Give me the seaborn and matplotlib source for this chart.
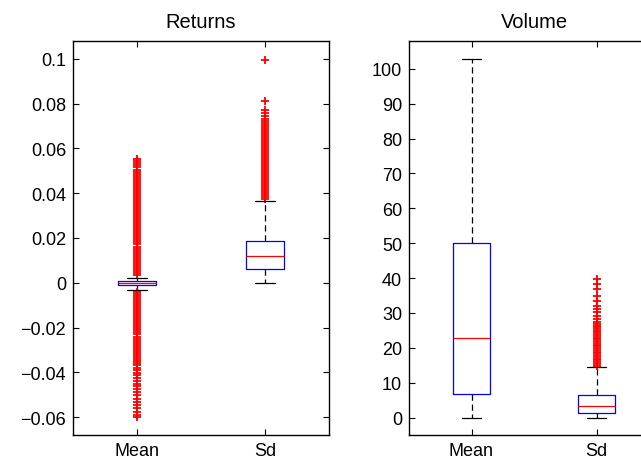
import numpy as np
import pandas as pd
import matplotlib
matplotlib.use("Agg")
import matplotlib.pyplot as plt
import seaborn as sns
from matplotlib.ticker import FuncFormatter

categories = ["Mean", "Sd"]
panel_titles = ["Returns", "Volume"]

# five-number summaries: lower whisker, Q1, median, Q3, upper whisker
returns_mean_box = [-0.0031, -0.0012, -0.0003, 0.0006, 0.0021]
returns_sd_box = [0.0000, 0.0063, 0.0118, 0.0185, 0.0364]
volume_mean_box = [0.0, 6.9, 22.8, 50.1, 102.8]
volume_sd_box = [0.0, 1.2, 3.4, 6.6, 14.5]

# outliers (the dense red columns)
returns_mean_outliers = [
    0.0036, 0.0045, 0.0054, 0.0063, 0.0072, 0.0081, 0.0090, 0.0099, 0.0108, 0.0117,
    0.0126, 0.0135, 0.0144, 0.0153, 0.0162, 0.0171, 0.0180, 0.0189, 0.0198, 0.0207,
    0.0216, 0.0225, 0.0234, 0.0243, 0.0252, 0.0261, 0.0270, 0.0279, 0.0288, 0.0297,
    0.0306, 0.0315, 0.0324, 0.0333, 0.0342, 0.0351, 0.0360, 0.0369, 0.0378, 0.0387,
    0.0396, 0.0405, 0.0414, 0.0423, 0.0432, 0.0441, 0.0450, 0.0459, 0.0468, 0.0477,
    0.0486, 0.0495, 0.0504, 0.0516, 0.0528, 0.0537, 0.0545, 0.0551,
    -0.0042, -0.0051, -0.0060, -0.0069, -0.0078, -0.0087, -0.0096, -0.0105, -0.0114,
    -0.0123, -0.0132, -0.0141, -0.0150, -0.0159, -0.0168, -0.0177, -0.0186, -0.0195,
    -0.0204, -0.0213, -0.0222, -0.0231, -0.0240, -0.0249, -0.0258, -0.0267, -0.0276,
    -0.0285, -0.0294, -0.0303, -0.0312, -0.0321, -0.0330, -0.0339, -0.0348, -0.0358,
    -0.0368, -0.0379, -0.0390, -0.0401, -0.0413, -0.0425, -0.0437, -0.0450, -0.0463,
    -0.0476, -0.0489, -0.0503, -0.0517, -0.0531, -0.0546, -0.0561, -0.0576, -0.0591,
    -0.0600,
]
returns_sd_outliers = [
    0.0372, 0.0381, 0.0390, 0.0399, 0.0408, 0.0417, 0.0426, 0.0435, 0.0444, 0.0453,
    0.0462, 0.0471, 0.0480, 0.0489, 0.0498, 0.0507, 0.0516, 0.0525, 0.0534, 0.0543,
    0.0552, 0.0561, 0.0570, 0.0579, 0.0588, 0.0597, 0.0606, 0.0615, 0.0624, 0.0633,
    0.0642, 0.0651, 0.0660, 0.0669, 0.0678, 0.0687, 0.0696, 0.0705, 0.0714, 0.0723,
    0.0733, 0.0745, 0.0758, 0.0771, 0.0812, 0.0997,
]
volume_mean_outliers = []
volume_sd_outliers = [
    14.9, 15.4, 15.9, 16.4, 16.9, 17.4, 17.9, 18.4, 18.9, 19.4, 19.9, 20.4, 20.9,
    21.4, 21.9, 22.4, 22.9, 23.4, 23.9, 24.4, 24.9, 25.4, 25.9, 26.4, 26.9, 27.5,
    28.2, 29.1, 30.2, 31.0, 32.0, 33.4, 34.9, 36.8, 38.2, 39.7,
]

returns_ticks = [-0.06, -0.04, -0.02, 0, 0.02, 0.04, 0.06, 0.08, 0.1]
volume_ticks = [0, 10, 20, 30, 40, 50, 60, 70, 80, 90, 100]

# copies of each quartile value so the quartiles stay exactly as read
QUARTILE_COPIES = 1000


def sample(box, outliers):
    lo, q1, med, q3, hi = box
    return ([lo] + [q1] * QUARTILE_COPIES + [med] * QUARTILE_COPIES
            + [q3] * QUARTILE_COPIES + [hi] + list(outliers))


def long_frame(mean_box, mean_out, sd_box, sd_out):
    a = sample(mean_box, mean_out)
    b = sample(sd_box, sd_out)
    return pd.DataFrame({"stat": [categories[0]] * len(a) + [categories[1]] * len(b),
                         "value": a + b})


returns_df = long_frame(returns_mean_box, returns_mean_outliers, returns_sd_box, returns_sd_outliers)
volume_df = long_frame(volume_mean_box, volume_mean_outliers, volume_sd_box, volume_sd_outliers)

sns.set_theme(style="ticks")
plt.rcParams["font.family"] = ["Liberation Sans", "DejaVu Sans"]
plt.rcParams["text.color"] = "black"

fig = plt.figure(figsize=(6.41, 4.60), dpi=100)
ax1 = fig.add_axes([73 / 641, 24 / 460, 256 / 641, 394 / 460])
ax2 = fig.add_axes([409 / 641, 24 / 460, 250 / 641, 394 / 460])


def fmt(v, pos):
    return f"{v:g}".replace("-", "\u2212")


for ax, df, title, ticks, ylim in [
    (ax1, returns_df, panel_titles[0], returns_ticks, (-0.068, 0.108)),
    (ax2, volume_df, panel_titles[1], volume_ticks, (-5.0, 108.0)),
]:
    sns.boxplot(
        data=df, x="stat", y="value", order=categories, ax=ax, width=0.3, whis=1.5,
        fill=False, linewidth=0.9,
        boxprops=dict(color="blue", zorder=3),
        medianprops=dict(color="red", zorder=4),
        whiskerprops=dict(color="black", linestyle=(0, (5, 3))),
        capprops=dict(color="black", zorder=4),
        flierprops=dict(marker="+", markeredgecolor="red", markerfacecolor="red",
                        markersize=5.5, markeredgewidth=1.3, zorder=2),
    )
    ax.set_xlim(-0.5, 1.5)
    ax.set_ylim(*ylim)
    ax.set_yticks(ticks)
    ax.yaxis.set_major_formatter(FuncFormatter(fmt))
    ax.set_xlabel("")
    ax.set_ylabel("")
    ax.set_title(title, fontsize=14.5, pad=10, color="black")
    ax.tick_params(direction="in", top=True, right=True, length=4, width=0.8,
                   labelsize=13, pad=5, colors="black")
    for s in ax.spines.values():
        s.set_visible(True)
        s.set_color("black")
        s.set_linewidth(1.0)
    ax.set_facecolor("white")

fig.savefig("out.png", dpi=100, facecolor="white")
